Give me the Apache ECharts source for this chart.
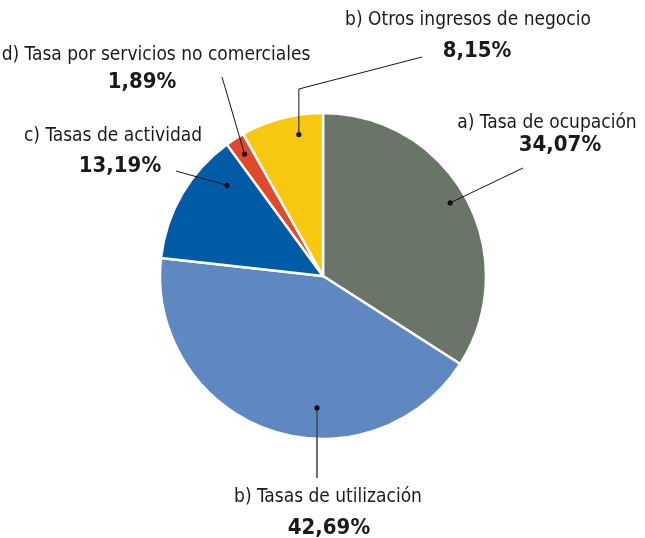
<!DOCTYPE html>
<html>
<head>
<meta charset="utf-8">
<script src="https://cdn.jsdelivr.net/npm/echarts@6/dist/echarts.min.js"></script>
<style>
  html, body { margin: 0; padding: 0; background: #fff; }
  #chart { width: 645px; height: 538px; }
</style>
</head>
<body>
<div id="chart"></div>
<script>
// Composition of fee income (share of total, %)
const categories = [
  'a) Tasa de ocupación',
  'b) Tasas de utilización',
  'c) Tasas de actividad',
  'd) Tasa por servicios no comerciales',
  'b) Otros ingresos de negocio'
];
const shares = [34.07, 42.69, 13.19, 1.89, 8.15];
const sliceColors = ['#6b7468', '#5f88c2', '#005ba7', '#e04a2c', '#f8c70f'];

const FONT = '"Liberation Sans Narrow", "DejaVu Sans Condensed", "Roboto Condensed", sans-serif';
const CX = 323, CY = 276, R = 163;
const NAME_LH = 26;

// Label placement: centres of the name line and of the percentage line,
// leader-line end, and the anchor inside the slice
// (t = position along the slice's arc, r = fraction of the radius).
const labelCfg = [
  { name: [547, 123], pct: [560, 145], end: [523, 168], t: 0.49, r: 0.90 },
  { name: [328, 497], pct: [329, 528], toY: 478,        t: 0.39, r: 0.81 },
  { name: [113, 136], pct: [120, 166], end: [176, 171], t: 0.78, r: 0.81 },
  { name: [156, 55],  pct: [142, 82],  end: [222, 77],  t: 0.5,  r: 0.89 },
  { name: [468, 20],  pct: [477, 51],  end: [422, 57],  t: 0.67, r: 0.88, elbowY: 89 }
];

const total = shares.reduce((a, b) => a + b, 0);
const starts = [];
shares.reduce((acc, v) => { starts.push(acc); return acc + v; }, 0);

function anchorPoint(i) {
  const c = labelCfg[i];
  const deg = 360 * (starts[i] + c.t * shares[i]) / total;
  const rad = deg * Math.PI / 180;
  return [CX + c.r * R * Math.sin(rad), CY - c.r * R * Math.cos(rad)];
}

function leaderPoints(i) {
  const c = labelCfg[i];
  const a = anchorPoint(i);
  if (c.toY) return [a, [a[0], c.toY]];
  if (c.elbowY) return [a, [a[0], c.elbowY], c.end];
  return [a, c.end];
}

function fmtPct(v) {
  return v.toFixed(2).replace('.', ',') + '%';
}

const rich = {
  n: { fontFamily: FONT, fontSize: 19, color: '#1a1a1a', lineHeight: NAME_LH }
};
labelCfg.forEach((c, i) => {
  const nudge = c.pct[0] - c.name[0];
  const gap = c.pct[1] - c.name[1];
  rich['p' + i] = {
    fontFamily: FONT, fontSize: 22, fontWeight: 'bold', color: '#1a1a1a',
    lineHeight: 2 * (gap - NAME_LH / 2),
    padding: nudge >= 0 ? [0, 0, 0, 2 * nudge] : [0, -2 * nudge, 0, 0]
  };
});

const chart = echarts.init(document.getElementById('chart'), null, { renderer: 'canvas' });

// Leader lines and their anchor dots, drawn above the slices
const leaderGraphics = [];
shares.forEach((v, i) => {
  const pts = leaderPoints(i);
  leaderGraphics.push({
    type: 'polyline', z: 100,
    shape: { points: pts },
    style: { stroke: i === 1 ? '#4a4a4a' : '#151515', lineWidth: i === 1 ? 1.6 : 1, fill: null }
  });
  leaderGraphics.push({
    type: 'circle', z: 101,
    shape: { cx: pts[0][0], cy: pts[0][1], r: 2.6 },
    style: { fill: '#111' }
  });
});

chart.setOption({
  animation: false,
  backgroundColor: '#ffffff',
  graphic: leaderGraphics,
  series: [{
    type: 'pie',
    center: [CX, CY],
    radius: R,
    startAngle: 90,
    clockwise: true,
    data: categories.map((name, i) => ({
      name, value: shares[i],
      itemStyle: { color: sliceColors[i] }
    })),
    itemStyle: { borderColor: '#ffffff', borderWidth: 2.5 },
    emphasis: { disabled: true },
    label: {
      show: true,
      position: 'outside',
      align: 'center',
      overflow: 'none',
      width: 400,
      formatter: p => '{n|' + p.name + '}\n{p' + p.dataIndex + '|' + fmtPct(p.value) + '}',
      rich
    },
    labelLine: { show: false },
    labelLayout: params => {
      const c = labelCfg[params.dataIndex];
      return {
        x: c.name[0], y: c.name[1] - NAME_LH / 2,
        align: 'center', verticalAlign: 'top'
      };
    }
  }]
});
</script>
</body>
</html>
